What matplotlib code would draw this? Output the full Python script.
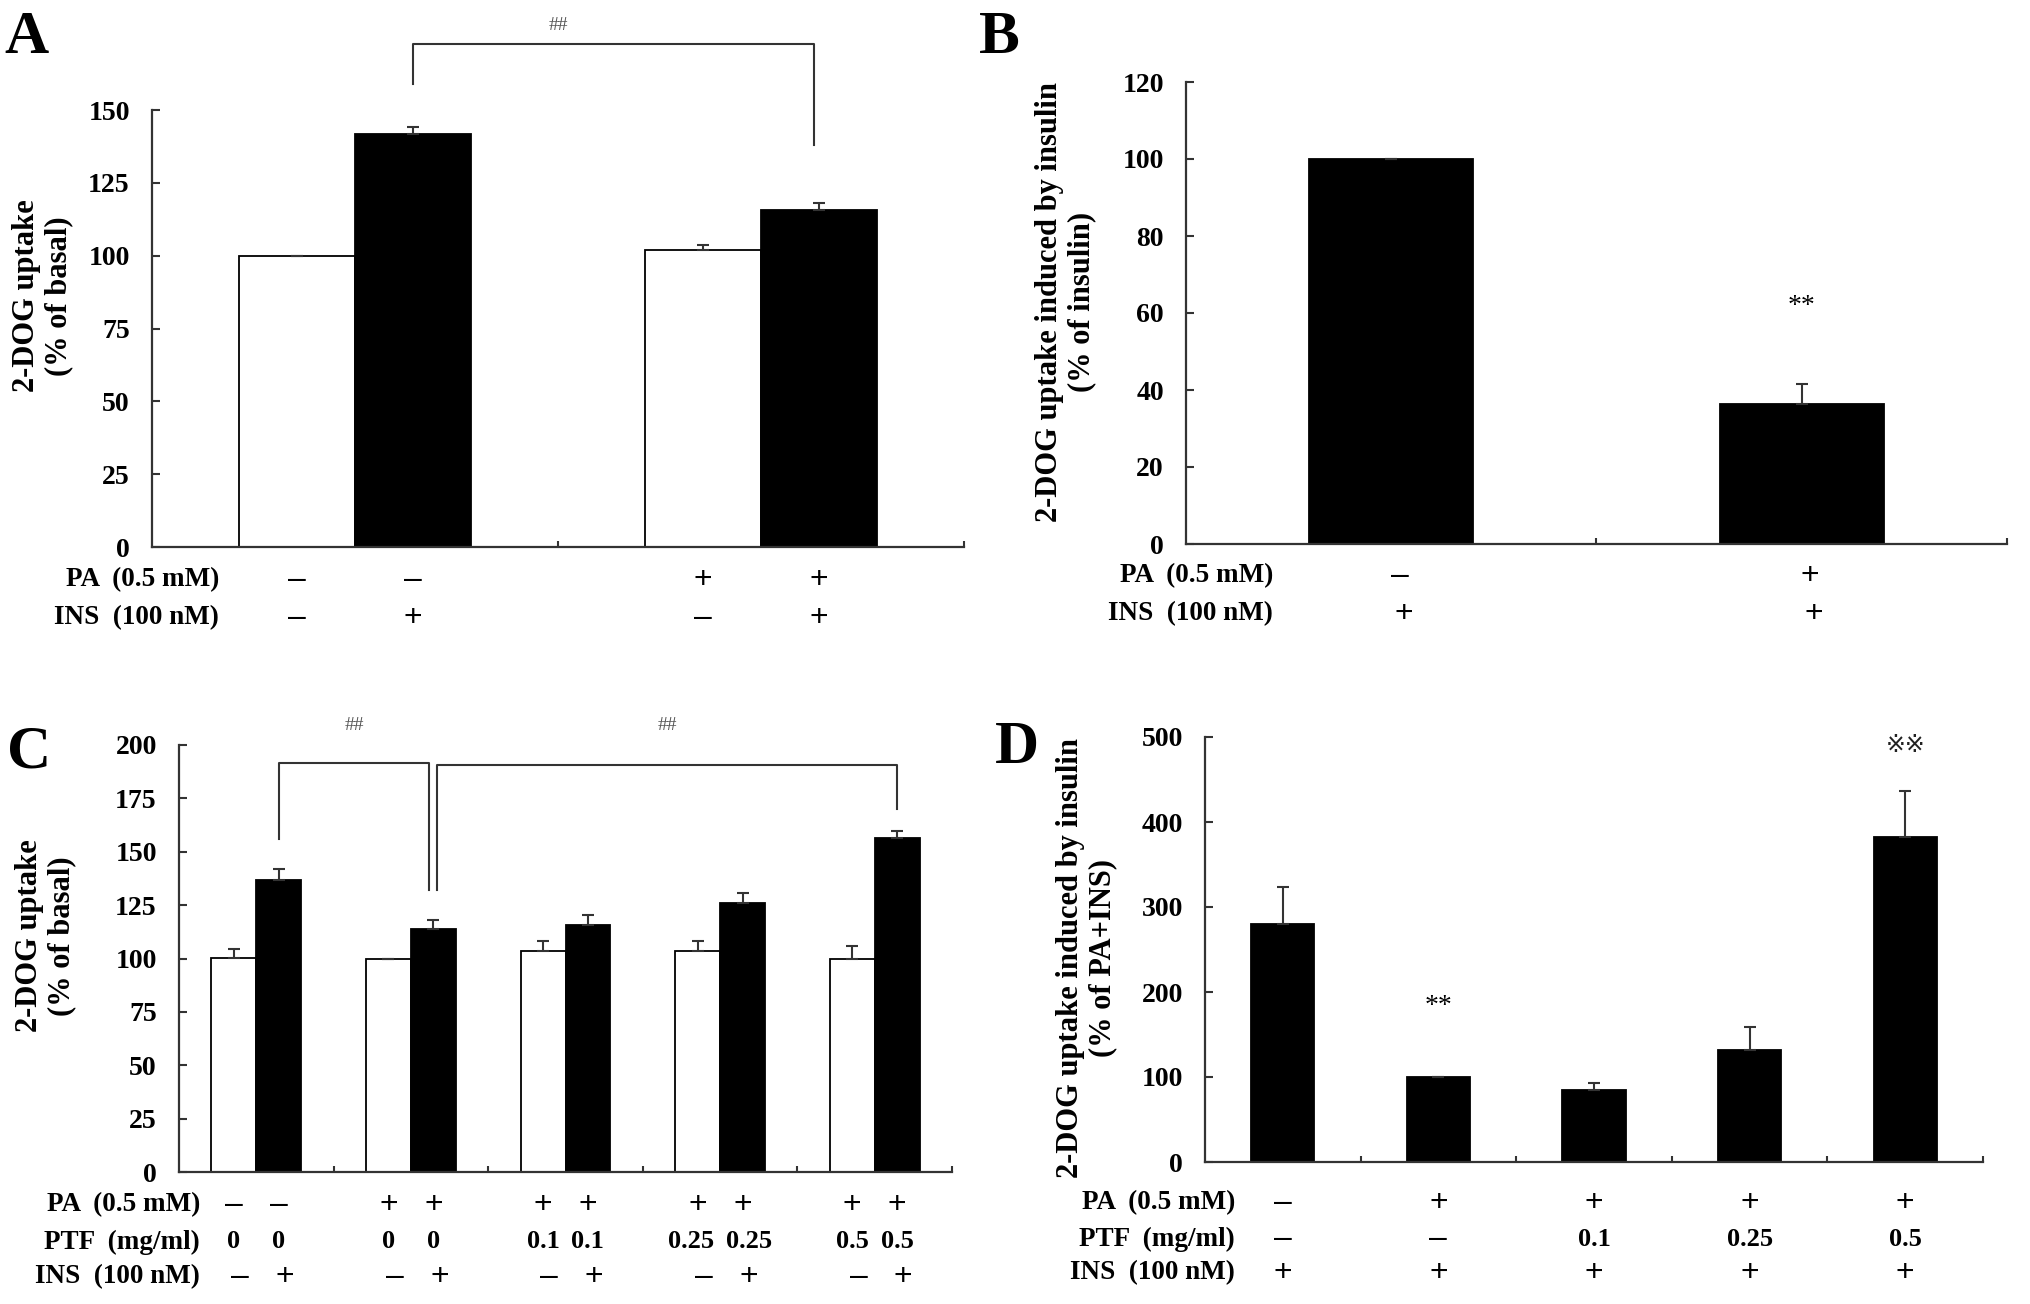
import numpy as np
import matplotlib
matplotlib.use("Agg")
import matplotlib.pyplot as plt
import matplotlib.transforms as mtransforms

# ---- data ----
# A: basal (white) vs insulin (black), without / with PA
a_white = [100, 102.1]
a_white_err = [0, 1.7]
a_black = [141.8, 115.6]
a_black_err = [2.5, 2.6]
a_pa = ["–", "–", "+", "+"]
a_ins = ["–", "+", "–", "+"]

# B: insulin-induced uptake, % of insulin
b_vals = [100, 36.3]
b_err = [0, 5.2]
b_pa = ["–", "+"]
b_ins = ["+", "+"]

# C: five groups, white = basal, black = insulin
c_white = [100.4, 100, 103.3, 103.7, 99.6]
c_white_err = [3.9, 0, 4.9, 4.5, 6.1]
c_black = [136.8, 113.7, 115.9, 126.0, 156.4]
c_black_err = [5.1, 4.1, 4.6, 4.9, 3.1]
c_pa = ["–", "–", "+", "+", "+", "+", "+", "+", "+", "+"]
c_ptf = ["0", "0", "0", "0", "0.1", "0.1", "0.25", "0.25", "0.5", "0.5"]
c_ins = ["–", "+", "–", "+", "–", "+", "–", "+", "–", "+"]

# D: insulin-induced uptake, % of PA+INS
d_vals = [279.9, 100.5, 84.8, 131.4, 382.0]
d_err = [44, 0, 8.2, 26.9, 54]
d_pa = ["–", "+", "+", "+", "+"]
d_ptf = ["–", "–", "0.1", "0.25", "0.5"]
d_ins = ["+", "+", "+", "+", "+"]

plt.rcParams["font.family"] = ["Liberation Serif", "DejaVu Sans"]
plt.rcParams["font.weight"] = "bold"

W, H = 2031, 1304
fig = plt.figure(figsize=(W / 100, H / 100), dpi=100)
LC = "#333333"
SIGN = dict(family=["Liberation Sans", "DejaVu Sans"], fontweight="normal", fontsize=23)


def add_axes(l, r, y0, ytop):
    return fig.add_axes([l / W, 1 - y0 / H, (r - l) / W, (y0 - ytop) / H])


def style(ax, ymax, step, n):
    ax.set_xlim(-0.5, n - 0.5)
    ax.set_ylim(0, ymax)
    for s in ["top", "right"]:
        ax.spines[s].set_visible(False)
    for s in ["left", "bottom"]:
        ax.spines[s].set_color(LC)
        ax.spines[s].set_linewidth(1.6)
    ax.set_yticks(np.arange(0, ymax + 1, step))
    ax.set_xticks(np.arange(0.5, n, 1.0))
    ax.set_xticklabels([])
    ax.tick_params(axis="both", direction="in", width=1.5, color=LC)
    ax.tick_params(axis="y", length=6, labelsize=20, pad=16)
    ax.tick_params(axis="x", length=4)


def row(ax, xs, labels, ypix, name, xright, **kw):
    tr = mtransforms.blended_transform_factory(ax.transData, fig.transFigure)
    for x, s in zip(xs, labels):
        if s in ("+", "–"):
            ax.text(x, 1 - ypix / H, s, transform=tr, ha="center", va="center", **SIGN)
        else:
            ax.text(x, 1 - ypix / H, s, transform=tr, ha="center", va="center", fontsize=19)
    fig.text(xright / W, 1 - ypix / H, name, ha="right", va="center", fontsize=19.5)


def bracket(ax, x0, y0, x1, y1, ytop):
    ax.plot([x0, x0, x1, x1], [y0, ytop, ytop, y1], color=LC, lw=1.5, clip_on=False)


def ebar(ax, x, y, e):
    ax.errorbar(x, y, yerr=[np.zeros(len(e)), e], fmt="none", ecolor=LC,
                elinewidth=1.5, capsize=4, capthick=1.5)


def ylab(x, y, text):
    fig.text(x / W, 1 - y / H, text, rotation=90, ha="center", va="center",
             fontsize=22, linespacing=1.15)


# ---------------- A ----------------
axA = add_axes(152, 964, 547, 110)
style(axA, 150, 25, 2)
w = 0.285
xa = np.arange(2)
axA.bar(xa - w / 2, a_white, w, color="white", edgecolor="black", linewidth=1.3)
axA.bar(xa + w / 2, a_black, w, color="black", edgecolor="black", linewidth=1.3)
ebar(axA, xa - w / 2, a_white, a_white_err)
ebar(axA, xa + w / 2, a_black, a_black_err)
bracket(axA, w / 2, 159, 1 + w / 2 - 0.012, 138, 172.5)
axA.text(0.5, 179, "##", ha="center", va="center", fontsize=14,
         fontweight="normal", color="#555555")
xa_bars = np.ravel(np.column_stack([xa - w / 2, xa + w / 2]))
row(axA, xa_bars, a_pa, 580, "PA  (0.5 mM)", 219)
row(axA, xa_bars, a_ins, 618, "INS  (100 nM)", 219)
ylab(43, 296, "2-DOG uptake\n(% of basal)")
fig.text(27 / W, 1 - 38 / H, "A", ha="center", va="center", fontsize=44)

# ---------------- B ----------------
axB = add_axes(1186, 2007, 544, 82)
style(axB, 120, 20, 2)
xb = np.arange(2)
axB.bar(xb, b_vals, 0.4, color="black", edgecolor="black", linewidth=1.3)
ebar(axB, xb, b_vals, b_err)
axB.text(1, 61.7, "**", ha="center", va="center", fontsize=20, fontweight="normal")
row(axB, xb + 0.02, b_pa, 576, "PA  (0.5 mM)", 1273)
row(axB, xb + 0.03, b_ins, 614, "INS  (100 nM)", 1273)
ylab(1066, 302, "2-DOG uptake induced by insulin\n(% of insulin)")
fig.text(999 / W, 1 - 38 / H, "B", ha="center", va="center", fontsize=44)

# ---------------- C ----------------
axC = add_axes(179, 952, 1172, 745)
style(axC, 200, 25, 5)
wc = 0.29
xc = np.arange(5)
axC.bar(xc - wc / 2, c_white, wc, color="white", edgecolor="black", linewidth=1.3)
axC.bar(xc + wc / 2, c_black, wc, color="black", edgecolor="black", linewidth=1.3)
ebar(axC, xc - wc / 2, c_white, c_white_err)
ebar(axC, xc + wc / 2, c_black, c_black_err)
off = 0.026
bracket(axC, wc / 2, 156, 1 + wc / 2 - off, 132, 191.4)
bracket(axC, 1 + wc / 2 + off, 132, 4 + wc / 2, 170, 190.8)
axC.text((wc / 2 + 1 + wc / 2 - off) / 2, 209, "##", ha="center", va="center",
         fontsize=14, fontweight="normal", color="#555555")
axC.text((1 + wc / 2 + off + 4 + wc / 2) / 2, 209, "##", ha="center", va="center",
         fontsize=14, fontweight="normal", color="#555555")
xc_bars = np.ravel(np.column_stack([xc - wc / 2, xc + wc / 2]))
# the two "0.25" labels sit a little wider apart than their bars
ptf_nudge = np.array([0, 0, 0, 0, 0, 0, -0.04, 0.045, 0, 0])
row(axC, xc_bars, c_pa, 1205, "PA  (0.5 mM)", 200)
row(axC, xc_bars + ptf_nudge, c_ptf, 1242, "PTF  (mg/ml)", 200)
row(axC, xc_bars + 0.04, c_ins, 1277, "INS  (100 nM)", 200)
ylab(46, 936, "2-DOG uptake\n(% of basal)")
fig.text(29 / W, 1 - 752 / H, "C", ha="center", va="center", fontsize=44)

# ---------------- D ----------------
axD = add_axes(1205, 1983, 1162, 737)
style(axD, 500, 100, 5)
xd = np.arange(5)
axD.bar(xd, d_vals, 0.405, color="black", edgecolor="black", linewidth=1.3)
ebar(axD, xd, d_vals, d_err)
axD.text(1, 183, "**", ha="center", va="center", fontsize=20, fontweight="normal")
axD.text(4, 490, "※※", ha="center", va="center", fontsize=17, fontweight="normal",
         family=["DejaVu Sans", "Noto Sans CJK JP"], color="#222222")
row(axD, xd, d_pa, 1203, "PA  (0.5 mM)", 1235)
row(axD, xd, d_ptf, 1239, "PTF  (mg/ml)", 1235)
row(axD, xd, d_ins, 1273, "INS  (100 nM)", 1235)
ylab(1087, 958, "2-DOG uptake induced by insulin\n(% of PA+INS)")
fig.text(1017 / W, 1 - 748 / H, "D", ha="center", va="center", fontsize=44)

fig.savefig("out.png", dpi=100, facecolor="white")
